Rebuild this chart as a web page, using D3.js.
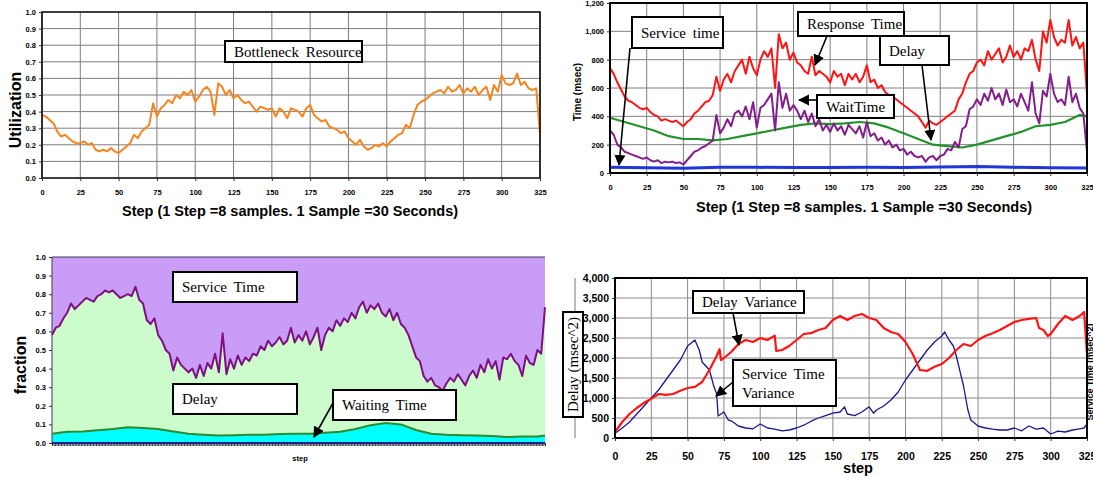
<!DOCTYPE html>
<html>
<head>
<meta charset="utf-8">
<script src="https://cdn.jsdelivr.net/npm/d3@7"></script>
<style>
  body { margin: 0; background: #fff; }
  text { font-family: "Liberation Sans", Arial, sans-serif; }
  .note text { font-family: "Liberation Serif", "Times New Roman", serif; }
</style>
</head>
<body>
<svg id="chart" width="1093" height="477"></svg>
<script>
// ---- data ----
// noisy series sampled every 2.5 steps, 0..325
const steps = d3.range(0, 325.1, 2.5);
const tenSteps = [0,10,20,30,40,50,60,70,80,90,100,110,120,130,140,150,160,170,180,190,200,210,220,230,240,250,260,270,280,290,300,310,320,325];
const quarterSteps = [0,25,50,75,100,125,150,175,200,225,250,275,300,325];

// top left: utilization of the bottleneck resource
const utilization = [
  0.38,0.37,0.35,0.33,0.28,0.25,0.26,0.24,0.22,0.21,
  0.21,0.22,0.20,0.21,0.17,0.16,0.17,0.16,0.18,0.16,
  0.15,0.17,0.19,0.21,0.26,0.24,0.28,0.30,0.32,0.45,
  0.37,0.42,0.44,0.47,0.45,0.50,0.48,0.52,0.50,0.53,
  0.46,0.49,0.53,0.55,0.52,0.38,0.57,0.55,0.50,0.53,
  0.48,0.50,0.47,0.45,0.46,0.43,0.40,0.43,0.42,0.41,
  0.42,0.37,0.42,0.40,0.36,0.42,0.41,0.40,0.37,0.42,
  0.44,0.38,0.36,0.34,0.35,0.31,0.30,0.29,0.27,0.28,
  0.24,0.22,0.20,0.23,0.19,0.17,0.18,0.20,0.19,0.21,
  0.19,0.22,0.24,0.26,0.27,0.32,0.30,0.38,0.44,0.46,
  0.47,0.49,0.51,0.52,0.53,0.51,0.55,0.52,0.53,0.56,
  0.51,0.54,0.52,0.55,0.50,0.53,0.55,0.47,0.56,0.52,
  0.62,0.57,0.56,0.57,0.63,0.56,0.58,0.54,0.53,0.54,
  0.27
];

// top right: times in msec
const responseTime = [
  740,700,640,590,540,510,500,480,460,450,
  460,430,410,400,370,380,370,360,370,350,
  330,360,380,420,440,470,500,510,550,680,
  580,660,700,640,720,760,800,700,820,740,
  690,800,860,820,880,600,980,880,920,800,
  850,780,760,720,700,820,690,720,700,680,
  640,720,680,700,620,700,660,700,640,680,
  760,640,660,600,620,570,550,540,520,500,
  480,460,440,420,400,360,320,370,350,340,
  360,380,400,420,440,520,560,640,700,720,
  780,800,760,860,800,840,880,780,820,900,
  820,860,800,880,860,940,800,720,1000,920,
  1080,960,900,940,920,1080,900,960,880,920,
  560
];
const waitTime = [
  300,270,200,180,150,140,130,120,110,100,
  110,90,80,90,70,80,75,80,70,75,
  60,90,120,150,160,180,190,210,230,410,
  280,320,380,330,420,440,400,470,380,500,
  320,460,480,520,560,300,640,460,560,440,
  480,440,380,440,360,420,330,380,300,340,
  290,350,300,330,270,340,310,280,330,250,
  360,260,280,230,250,200,230,180,200,160,
  170,130,150,120,110,120,80,110,120,90,
  120,130,170,160,220,180,310,330,450,470,
  520,480,560,510,600,520,560,480,590,500,
  520,470,560,500,440,640,420,350,580,540,
  700,560,500,520,480,680,500,560,460,420,
  150
];
const delayTime = [390,360,330,300,260,240,240,230,240,260,280,300,320,340,350,345,350,360,350,320,280,240,200,190,180,200,230,260,290,330,340,360,410,400];
const serviceTime = [40,37,33,40,40,38,38,40,38,42,46,40,37,35];

// bottom left: fractions of response time
const delayTop = [
  0.58,0.62,0.63,0.67,0.70,0.75,0.72,0.74,0.76,0.78,
  0.77,0.76,0.79,0.80,0.82,0.81,0.82,0.80,0.78,0.79,
  0.80,0.79,0.84,0.77,0.75,0.66,0.64,0.67,0.58,0.55,
  0.50,0.48,0.39,0.46,0.42,0.40,0.38,0.40,0.35,0.42,
  0.36,0.43,0.40,0.48,0.38,0.59,0.37,0.45,0.40,0.47,
  0.42,0.46,0.44,0.48,0.47,0.52,0.50,0.55,0.52,0.54,
  0.57,0.53,0.55,0.62,0.54,0.58,0.55,0.60,0.53,0.57,
  0.62,0.50,0.58,0.62,0.60,0.66,0.63,0.67,0.65,0.70,
  0.67,0.73,0.76,0.70,0.74,0.72,0.75,0.70,0.68,0.72,
  0.66,0.70,0.64,0.62,0.58,0.52,0.46,0.44,0.36,0.33,
  0.35,0.31,0.30,0.28,0.32,0.35,0.33,0.37,0.34,0.31,
  0.36,0.39,0.35,0.42,0.38,0.45,0.40,0.44,0.34,0.46,
  0.45,0.48,0.44,0.42,0.36,0.47,0.43,0.42,0.50,0.48,
  0.73
];
const waitShare = [0.05,0.06,0.062,0.068,0.075,0.085,0.08,0.075,0.062,0.05,0.045,0.04,0.042,0.045,0.045,0.048,0.05,0.05,0.055,0.06,0.075,0.095,0.108,0.10,0.07,0.05,0.045,0.042,0.04,0.038,0.032,0.035,0.035,0.04];

// bottom right: variances in msec^2
const delayVarSteps = [0,5,10,15,20,25,30,35,40,45,50,55,60,65,70,72,73,75,80,85,90,95,100,105,110,111,115,120,125,130,135,140,145,150,155,160,165,170,175,180,185,190,195,200,205,210,215,220,225,230,235,240,245,250,255,260,265,270,275,280,285,290,292,295,298,300,305,310,315,320,323,325];
const delayVar = [150,400,600,750,880,980,1100,1080,1100,1180,1250,1280,1400,1700,2050,2220,1950,2000,2150,2350,2450,2400,2500,2450,2560,2180,2200,2300,2450,2600,2620,2700,2750,2950,3050,2950,3050,3100,3000,2950,2750,2650,2600,2400,2100,1700,1680,1780,1850,2000,2200,2350,2300,2450,2550,2620,2700,2800,2900,2950,2980,3000,2750,2700,2550,2600,2850,3050,2950,3050,3150,2100];
const svcVarSteps = [0,5,10,15,20,25,30,35,40,45,50,55,58,60,65,68,70,71,75,78,80,85,90,95,100,105,110,115,120,125,130,135,140,145,150,155,158,160,165,170,175,178,180,185,190,195,200,205,210,215,220,225,227,230,233,235,238,240,243,245,250,255,260,265,270,275,280,285,290,295,300,305,310,315,320,323,325];
const svcVar = [120,250,400,600,800,1000,1200,1450,1700,1950,2300,2450,2200,1900,1700,1300,1100,550,650,450,430,300,250,230,350,250,220,180,200,250,320,420,500,560,620,650,780,600,560,650,780,620,700,800,950,1150,1450,1700,1950,2200,2400,2550,2650,2450,2300,2050,1600,1300,700,450,300,250,220,200,200,250,180,300,220,250,100,170,150,200,230,250,350];

const zip = (xs, ys) => xs.map((s, i) => [s, ys[i]]);

// ---- drawing ----
const svg = d3.select('#chart');

svg.append('defs').append('marker')
    .attr('id', 'arrow')
    .attr('viewBox', '0 0 10 10')
    .attr('refX', 9).attr('refY', 5)
    .attr('markerWidth', 7).attr('markerHeight', 7)
    .attr('orient', 'auto')
  .append('path')
    .attr('d', 'M0,0L10,5L0,10z')
    .attr('fill', '#000');

// one panel = scales + group
function makePanel(box, yMax) {
  const p = { box: box };
  p.x = d3.scaleLinear().domain([0, 325]).range([box.left, box.right]);
  p.y = d3.scaleLinear().domain([0, yMax]).range([box.bottom, box.top]);
  p.g = svg.append('g');
  return p;
}

function drawGrid(p, xTicks, yTicks, color) {
  p.g.append('g').selectAll('line').data(xTicks).join('line')
      .attr('x1', d => p.x(d)).attr('x2', d => p.x(d))
      .attr('y1', p.box.top).attr('y2', p.box.bottom)
      .attr('stroke', color).attr('stroke-width', 1);
  p.g.append('g').selectAll('line').data(yTicks).join('line')
      .attr('x1', p.box.left).attr('x2', p.box.right)
      .attr('y1', d => p.y(d)).attr('y2', d => p.y(d))
      .attr('stroke', color).attr('stroke-width', 1);
}

function drawBorder(p, width) {
  p.g.append('rect')
      .attr('x', p.box.left).attr('y', p.box.top)
      .attr('width', p.box.right - p.box.left)
      .attr('height', p.box.bottom - p.box.top)
      .attr('fill', 'none').attr('stroke', '#000').attr('stroke-width', width);
}

function drawAxes(p, xTicks, yTicks, yFmt, size, xLabels) {
  const xa = p.g.append('g')
      .attr('transform', `translate(0,${p.box.bottom})`)
      .call(d3.axisBottom(p.x).tickValues(xTicks).tickSize(3).tickPadding(size + 1)
        .tickFormat(xLabels === false ? '' : d3.format('d')));
  const ya = p.g.append('g')
      .attr('transform', `translate(${p.box.left},0)`)
      .call(d3.axisLeft(p.y).tickValues(yTicks).tickSize(3).tickPadding(3).tickFormat(yFmt));
  [xa, ya].forEach(a => {
    a.select('.domain').remove();
    a.selectAll('line').attr('stroke', '#333');
    a.selectAll('text').attr('font-size', size).attr('font-weight', 'bold').attr('fill', '#000');
  });
}

function drawLine(p, pts, color, width) {
  p.g.append('path')
      .datum(pts)
      .attr('fill', 'none')
      .attr('stroke', color)
      .attr('stroke-width', width)
      .attr('stroke-linejoin', 'round')
      .attr('d', d3.line().x(d => p.x(d[0])).y(d => p.y(d[1])));
}

function note(x, y, w, h, lines, size) {
  const g = svg.append('g').attr('class', 'note');
  g.append('rect')
      .attr('x', x).attr('y', y).attr('width', w).attr('height', h)
      .attr('fill', '#fff').attr('stroke', '#000').attr('stroke-width', 2);
  const lh = size * 1.25;
  const y0 = y + h / 2 - (lines.length - 1) * lh / 2;
  lines.forEach((t, i) => {
    g.append('text')
        .attr('x', x + 9).attr('y', y0 + i * lh)
        .attr('dy', '0.35em')
        .attr('font-size', size)
        .attr('word-spacing', 3)
        .attr('fill', '#000')
        .text(t);
  });
}

function arrow(x1, y1, x2, y2) {
  svg.append('line')
      .attr('x1', x1).attr('y1', y1).attr('x2', x2).attr('y2', y2)
      .attr('stroke', '#000').attr('stroke-width', 1.6)
      .attr('marker-end', 'url(#arrow)');
}

function title(x, y, txt, size, rotate) {
  svg.append('text')
      .attr('transform', `translate(${x},${y})` + (rotate ? ` rotate(${rotate})` : ''))
      .attr('text-anchor', 'middle')
      .attr('dy', '0.35em')
      .attr('font-size', size)
      .attr('font-weight', 'bold')
      .text(txt);
}

const f1 = d3.format('.1f');
const fc = d3.format(',');

// --- top left: utilization ---
const tl = makePanel({ left: 42, right: 540, top: 12, bottom: 178 }, 1);
drawGrid(tl, quarterSteps, d3.range(0.1, 1, 0.1), '#7d7d7d');
drawLine(tl, zip(steps, utilization), '#f7851f', 2);
drawBorder(tl, 1.5);
drawAxes(tl, quarterSteps, d3.range(0, 1.01, 0.1), f1, 7.5);
title(15, 110, 'Utilization', 16, -90);
title(290, 211, 'Step (1 Step =8 samples. 1 Sample =30 Seconds)', 14.5);
note(225, 41, 137, 21, ['Bottleneck Resource'], 15);

// --- top right: times ---
const tr = makePanel({ left: 610, right: 1087, top: 3, bottom: 173 }, 1200);
drawGrid(tr, quarterSteps, [200, 400, 600, 800, 1000], '#808080');
drawLine(tr, zip(quarterSteps, serviceTime), '#1f36d8', 3);
drawLine(tr, zip(tenSteps, delayTime), '#24922a', 2.2);
drawLine(tr, zip(steps, waitTime), '#831e8c', 2);
drawLine(tr, zip(steps, responseTime), '#ff1414', 2);
drawBorder(tr, 2);
drawAxes(tr, quarterSteps, d3.range(0, 1201, 200), fc, 7.5);
title(577, 92, 'Time (msec)', 10, -90);
title(864, 207, 'Step (1 Step =8 samples. 1 Sample =30 Seconds)', 14.5);
note(632, 17, 91, 31, ['Service time'], 15);
arrow(630, 48, 619, 165);
note(798, 12, 106, 24, ['Response Time'], 15);
arrow(827, 36, 815, 65);
note(880, 36, 69, 29, ['Delay'], 15);
arrow(922, 65, 931, 140);
note(817, 95, 77, 23, ['WaitTime'], 15);
arrow(817, 100, 799, 100);

// --- bottom left: stacked fractions ---
const bl = makePanel({ left: 52, right: 545, top: 257, bottom: 443 }, 1);
const area = d3.area().x(d => bl.x(d[0])).y0(bl.y(0)).y1(d => bl.y(d[1]));
bl.g.append('path').datum(zip([0, 325], [1, 1])).attr('fill', '#c99cf7').attr('d', area);
bl.g.append('path').datum(zip(steps, delayTop)).attr('fill', '#ccfccc').attr('d', area);
bl.g.append('path').datum(zip(tenSteps, waitShare)).attr('fill', '#00ffff').attr('d', area);
bl.g.append('path')
    .attr('d', `M${bl.x(0)},${bl.y(0)}V${bl.y(1)}H${bl.x(325)}`)
    .attr('fill', 'none').attr('stroke', '#3a3a5a').attr('stroke-width', 1);
drawLine(bl, zip(steps, delayTop), '#7f0f80', 2);
drawLine(bl, zip(tenSteps, waitShare), '#2e8a2e', 2);
drawLine(bl, zip([0, 325], [0, 0]), '#1515b8', 2);
drawAxes(bl, d3.range(0, 326, 1), d3.range(0, 1.01, 0.1), f1, 7.5, false);
title(20, 365, 'fraction', 16, -90);
title(300, 458, 'step', 7.5);
note(173, 272, 124, 30, ['Service Time'], 15);
note(173, 384, 124, 30, ['Delay'], 15);
note(333, 390, 123, 30, ['Waiting Time'], 15);
arrow(333, 403, 314, 437);

// --- bottom right: variances ---
const br = makePanel({ left: 615, right: 1087, top: 278, bottom: 438 }, 4000);
drawGrid(br, quarterSteps, d3.range(500, 4000, 500), '#8a8a8a');
drawLine(br, zip(svcVarSteps, svcVar), '#1a1a8c', 1.3);
drawLine(br, zip(delayVarSteps, delayVar), '#ff1414', 2.2);
drawBorder(br, 2);
drawAxes(br, quarterSteps, d3.range(0, 4001, 500), fc, 10.5);
title(858, 468, 'step', 14.5);
svg.append('line')
    .attr('x1', 575).attr('x2', 575).attr('y1', 278).attr('y2', 438)
    .attr('stroke', '#777').attr('stroke-width', 1);
title(1090, 372, 'Service Time (msec^2)', 9, -90);
note(693, 291, 111, 22, ['Delay Variance'], 15);
arrow(733, 313, 739, 345);
note(733, 360, 103, 46, ['Service Time', 'Variance'], 15);
arrow(733, 382, 716, 396);

// rotated y label box
const rb = svg.append('g').attr('class', 'note');
rb.append('rect')
    .attr('x', 563).attr('y', 312).attr('width', 20).attr('height', 105)
    .attr('fill', '#fff').attr('stroke', '#000').attr('stroke-width', 2);
rb.append('text')
    .attr('transform', 'translate(573,364.5) rotate(-90)')
    .attr('text-anchor', 'middle').attr('dy', '0.35em')
    .attr('font-size', 15)
    .text('Delay (msec^2)');
</script>
</body>
</html>
